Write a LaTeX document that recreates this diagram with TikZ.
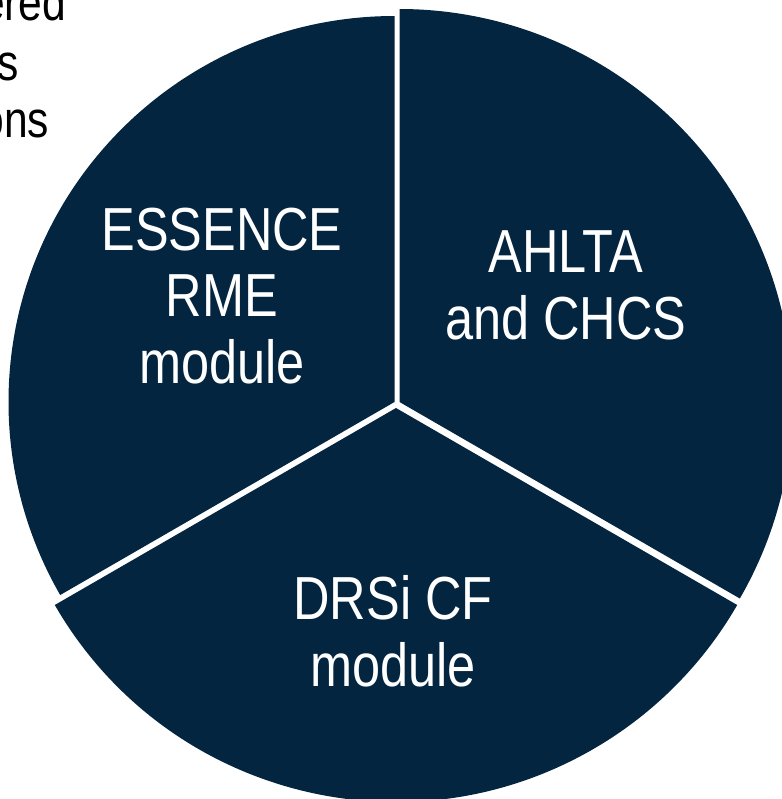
\documentclass[tikz,border=0pt]{standalone}
\usepackage{fontspec}
\setmainfont[FakeStretch=0.83]{Liberation Sans}
\usepackage{tikz}
\usetikzlibrary{positioning}
\definecolor{navy}{HTML}{042540}

\begin{document}
\begin{tikzpicture}
\tikzstyle{slice}=[fill=navy,draw=none]
\tikzstyle{slicetext}=[text=white,align=center,inner sep=0pt,font=\fontsize{17.3}{19}\selectfont]
\tikzstyle{cuttext}=[text=black,inner sep=0pt,anchor=base east,font=\fontsize{14.6}{16.6}\selectfont]

\useasboundingbox (0,0) rectangle (7.82,-7.99);

% centres of the three pieces
\coordinate (C_left) at (3.945,-4.02);
\coordinate (C_right) at (3.995,-4.02);
\coordinate (C_bottom) at (3.96,-4.08);

\fill[slice] (C_left) -- ++(90:3.86cm) arc (90:210:3.86cm) -- cycle;
\fill[slice] (C_right) -- ++(-30:3.93cm) arc (-30:90:3.93cm) -- cycle;
\fill[slice] (C_bottom) -- ++(210:3.94cm) arc (210:330:3.94cm) -- cycle;

\node (essence) [slicetext] at (2.22,-2.96) {ESSENCE\\RME\\module};
\node (ahlta) [slicetext] at (5.66,-2.85) {AHLTA\\and CHCS};
\node (drsi) [slicetext] at (3.93,-6.31) {DRSi CF\\module};

% text running in from the left
\node (cut_1) [cuttext] at (0.67,-0.20) {ered};
\node (cut_2) [cuttext] at (0.19,-0.80) {s};
\node (cut_3) [cuttext] at (0.50,-1.37) {ons};

\end{tikzpicture}
\end{document}
